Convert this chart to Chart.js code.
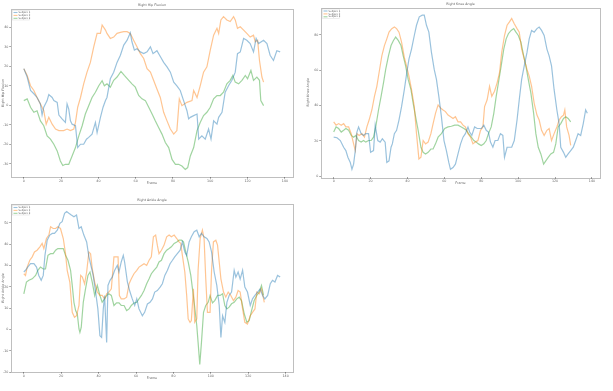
<!DOCTYPE html>
<html><head><meta charset="utf-8">
<script src="https://cdn.jsdelivr.net/npm/chart.js@4.4.0/dist/chart.umd.min.js"></script>
<style>
body{margin:0;background:#fff;width:613px;height:391px;position:relative;overflow:hidden}
canvas{position:absolute}
</style>
</head><body>
<canvas id="c1" width="300" height="190" style="left:0;top:0"></canvas>
<canvas id="c2" width="308" height="190" style="left:305px;top:0"></canvas>
<canvas id="c3" width="300" height="190" style="left:0;top:195px"></canvas>
<script>
// ---- Data (frame, value) ----
const seriesLabels = ['Subject 1','Subject 2','Subject 3'];
const xTicks = [0,20,40,60,80,100,120,140];
const hipYTicks = [-30,-20,-10,0,10,20,30,40];
const kneeYTicks = [0,20,40,60,80];
const ankleYTicks = [-20,-10,0,10,20,30,40,50];

// Right Hip Flexion
const hipFrames1 = [0,1.8,3.6,5.4,7.1,8.9,9.8,10.7,12.5,13.4,15.2,16.1,17.9,18.8,20.5,22.3,23.2,24.1,25,25.9,27.7,28.9,30.4,32.1,33.6,34.8,36.6,38.4,39.3,41.1,42.5,43.8,44.6,46.4,48.2,50,51.8,53.6,55.4,57.1,58,59.3,60.7,62.5,64.3,66.1,67.9,69.3,71.4,73.2,75,76.8,78.6,80.4,82.1,83.9,85.7,87.5,88.4,89.3,91.1,92.9,93.8,95.5,97.3,99.1,100.4,101.8,103.6,104.5,106.3,108,109.8,111.6,113.4,114.6,116.1,117.9,119.6,121.4,123.2,124.6,125.9,128.6,130.4,132.1,133.9,135.7,137.5];
const hipValues1 = [18.8,14.5,7.6,5.9,4,0.7,-5,-1,2.4,5.5,4,2.4,1.5,-5,-7,-8.8,0.7,-2,-8,-9.7,-10.5,-21.7,-20,-20,-17.4,-16.5,-14.8,-8.8,-14,-6.2,-1,2.4,4,13.6,17,22,25.7,30.9,33.4,37.2,32.6,28.3,29,27.4,26.5,27.4,30,26.5,28,25,22,19.7,17,11.9,10,7.6,2.4,-2.8,-7,-6.2,-5.3,-4.5,-17.4,-15.7,-17.4,-12.2,-17.4,-8,-9.7,-6.2,-3.6,6.7,10,12.8,17,26.5,27.4,34.3,33.4,31.7,27.4,34.3,31.7,33.4,31.7,25.7,23,28,27.4];
const hipFrames2 = [0,1.8,3.6,5.4,7.1,8.9,10.7,12,13.4,15.2,17,18.8,21.4,23.2,25,26.8,27.7,28.9,30.4,32.1,33.9,35.7,37.5,39.3,41.1,42,43.8,44.6,46.4,48.2,50,51.8,53.6,55.4,57.1,58.9,60.7,62.5,64.3,66.1,67.9,69.6,71.4,73.2,75,76.8,78.6,80.4,82.1,83.4,84.8,87.5,90.2,91.1,92.9,94.6,96.4,98.2,100,101.8,103.6,104.5,105.7,107.1,108.9,110.7,112.5,113.4,114.6,116.1,117.9,119.6,121.4,123.2,124.1,125.4,126.4,127.7,128.6];
const hipValues2 = [18.8,15.3,10,7.6,4,0.7,-2.8,-9.7,-6.2,-9.7,-12.2,-13,-13,-12.2,-13,-12.2,-8.8,-1,4,11,17,22,30,36.9,36.9,41.2,38.6,36.9,34.3,35,36.9,37.4,37.8,37.8,36.9,33.4,30,26.5,24,18.8,17,12.8,8.4,4,-3.6,-8,-12.2,-14.8,-13,3.3,-0.2,1.5,2.4,7.6,4,10,17,19.7,28.3,36,39.5,36.9,43.8,45.5,43.8,43,45.5,43.8,39.5,40.3,38.6,36.9,35,36,32.6,33.4,23,14.5,11.9];
const hipFrames3 = [0,1.8,3.6,5.4,7.1,8.9,10.7,12.5,14.3,16.1,17.9,19.6,20.9,22.3,24.1,25.9,27.7,29.5,31.3,33,34.8,36.6,38.4,40.2,42,43.2,44.6,46.4,48.2,50,52.1,53.9,56.3,58,59.8,61.6,63.4,65.2,67,68.8,70.5,72.3,74.1,75.9,77.7,79.5,81.3,83,84.8,86.6,87.9,89.3,91.1,92.9,94.6,96.4,98.2,100,101.8,103.6,105.4,107.1,108.9,110.7,112.1,113.4,115.2,117,118.8,120,121.8,123.2,125,126.4,127.1,128.6];
const hipValues3 = [2.4,3.3,-1,-3.6,-2.8,-8,-10.5,-15.7,-17.4,-20,-23.4,-28.6,-30.9,-30.3,-30.3,-26,-21.7,-15.7,-10.5,-4.5,-0.2,4,6.7,10,12.6,10,11,9.3,12.8,14.5,17.4,15.3,12.8,11,9.3,5,3.3,2.4,-1,-4.5,-8,-11.4,-14.8,-19.1,-21.7,-27.8,-30.3,-30.3,-31.2,-32.9,-32,-26,-21.7,-13,-8.8,-5.3,-3.6,-1,3.3,5,5,6.7,11,12.8,15.3,11.9,11,12.8,15.3,13.6,17.9,12.8,14.5,12.8,2.4,-0.2];

// Right Knee Angle
const kneeFrames1 = [0,1.8,3.6,5.4,6.6,7.7,9,9.9,10.8,11.7,12.6,13.5,14.9,16.2,17.4,18.9,20,21.6,22.5,23.9,25.2,26.4,27.9,28.8,30,31.1,31.8,32.9,34.1,35.4,36.8,38.3,39.5,40.8,42.2,43.7,44.9,46.4,48,49.1,50.3,51.6,53,54.5,55.7,57,58.4,59.8,61.1,62.4,63.3,64.7,66,67.4,68.8,70.1,71.4,72.8,73.7,74.9,76.4,77.8,79.1,80,81.4,82.7,83.9,85,86.3,87.5,89,90.4,91.7,92.6,94,95.3,96.5,97.9,99.4,100.6,101.9,103.3,104.8,106,107.3,108.7,110.2,111.4,112.7,114.1,115.6,116.8,118.1,119.5,121,122.2,123.1,124.6,125.8,127.1,128.5,129.9,131.2,132.5,133.9,135.3,136.6,137.5];
const kneeValues1 = [22,21.7,20.1,16.3,14.4,10.6,7.7,3.8,6.7,14.4,24.9,27.8,24,23,24,24,13.4,14.4,28.8,20.1,19.2,21.1,19.2,7.7,8.6,16.3,18.2,24,25.9,31.7,39.3,48.9,57.6,66.2,71.9,79.6,85.4,90.2,91.1,91.1,85.4,81.5,70,60.4,54.7,45.1,33.6,20.1,14.4,7.7,3.8,4.8,6.7,12.5,18.2,22,24,27.8,24.9,23,27.8,26.9,26.9,26.9,28.8,25.9,24.9,19.2,16.3,20.1,20.1,24,23,10.6,16.3,16.3,16.3,20.1,31.7,43.2,54.7,62.4,70,77.7,82.5,81.5,83.5,84.4,82.5,79.6,71.9,68.1,62.4,48.9,37.4,29.7,16.3,13.4,10.6,12.5,14.4,16.3,20.1,24,23,29.7,37.4,35.5];
const kneeFrames2 = [0,1.3,2.7,4.1,5.4,6.6,8.1,9.5,10.8,11.7,12.6,13.8,15.3,16.7,18,19.2,20.7,22.1,23.4,24.6,26.1,27.5,28.8,30,31.5,32.9,34.1,35.4,36.8,38.3,39.5,40.8,42.2,43.7,44.9,46.2,47.3,48.5,49.8,51.2,52.7,53.9,55.2,56.6,58.1,59.3,60.6,62,63.4,64.7,66,67.4,68.8,70.1,71.4,72.8,74.2,75.5,76.7,78.2,79.6,80.9,81.8,83.2,84.5,85.7,87.2,88.6,89.9,91.1,92.6,94,95.3,96.5,97.9,99.4,100.6,101.9,103.3,104.8,106,107.3,108.7,110.2,111.4,112.7,114.1,115.6,116.8,118.1,119.5,121,122.2,123.5,124.6,125.3,126.3,127.6,128.5];
const kneeValues2 = [30.7,28.8,29.7,28.8,29.7,27.8,27.8,24,18.2,14.4,24,23,24,22,27.8,31.7,37.4,45.1,50.8,58.5,68.1,73.9,77.7,81.5,83.5,84.4,83.5,81.5,75.8,67.2,62.4,56.6,48.9,39.3,24,9.6,10.6,20.1,18.2,19.2,24,29.7,35.5,40.3,38.4,37.4,36.5,34.5,33.6,32.6,33.6,30.7,30.7,28.8,27.8,24,22,18.2,19.2,20.1,25.9,27.8,39.3,43.2,50.8,45.1,48,52.8,58.5,70,79.6,85.4,87.3,89.2,86.3,83.5,81.5,71.9,66.2,60.4,56.6,50.8,41.2,34.5,31.7,25.9,23,25.9,26.9,20.1,24,27.8,31.7,33.6,34.5,37.4,27.8,23,17.3];
const kneeFrames3 = [0,1.3,2.7,4.1,5.4,6.6,8.1,9.5,10.8,12,13.5,14.9,16.2,17.4,18.9,20.3,21.6,22.8,24.3,25.7,27,28.2,29.7,31.1,32.4,33.6,35,36.5,37.7,39,40.4,41.9,43.1,44.4,45.8,47.3,48.5,49.8,51.2,52.7,53.9,55.2,56.6,58.4,60.2,62,63.8,65.6,67.4,69.2,70.6,71.9,73.1,74.6,76,77.3,78.5,80,81.4,82.7,83.9,85.4,86.8,88.1,89.3,90.8,92.2,93.5,94.7,96.2,97.6,98.8,100.1,101.5,103,104.2,105.5,106.9,108.4,109.6,110.9,112.3,113.8,115,116.3,117.7,119.2,120.4,121.7,123.1,124.6,125.8,127.1,128.5];
const kneeValues3 = [24.9,27.8,26.9,24.9,25.9,26.9,25.9,23,22,23,20.1,19.2,20.1,19.2,20.1,20.1,22,27.8,37.4,45.1,52.8,60.4,68.1,73.9,76.8,78.7,76.8,73.9,68.1,62.4,54.7,48.9,41.2,33.6,25.9,16.3,13.4,12.5,13.4,15.3,15.3,18.2,22,24,26.9,27.8,28.2,28.8,28.8,27.8,26.9,25.9,24,22,20.1,19.2,18.2,17.3,18.2,20.1,24,27.8,35.5,45.1,52.8,62.4,71.9,77.7,80.6,82.5,83.5,81.5,79.6,75.8,68.1,62.4,54.7,47,35.5,24,16.3,12.5,6.7,8.6,10.6,12.5,13.4,18.2,27.8,29.7,32.6,33.6,32.6,30.7];

// Right Ankle Angle
const ankleFrames1 = [0,0.9,2.1,3.6,5.4,6.8,8,9.3,10.4,11.3,12.5,13.9,15.2,16.4,17.9,19.3,20.5,21.8,22.9,24.1,25.4,26.8,28.2,29.5,30.7,32.1,33.6,34.8,36.1,37.1,38.4,39.6,40.7,41.6,42.5,43.2,44.3,45,46.1,47.3,48.6,50,50.9,52.1,53.2,53.9,55.4,56.8,58,59.3,60.4,61.6,63.4,64.6,66.1,67.5,68.8,70,71.4,72.9,74.1,75.4,76.8,78.2,79.5,80.7,82.1,83.6,84.8,86.1,87.1,88.4,89.6,91.1,92.5,93.8,95,96.4,97.9,99.1,100.4,101.8,103.2,104.5,105.4,106.3,107.5,108.6,109.8,111.1,112.5,113.4,114.6,115.7,117,118.2,119.6,121.1,122.3,123.6,125,126.4,127.7,128.9,130.4,131.8,133,134.3,135.7,137.1];
const ankleValues1 = [26.9,27.7,29.2,30.8,30.8,29.2,25.3,23,25.3,34.7,41.8,44.2,45,45,46.5,49.7,50.5,54.4,55.2,54.4,53.6,52.8,53.6,47.3,48.1,44.2,41,34,29.2,25.3,17.5,9.6,-3,-3.8,9.6,15.9,-6.1,20.6,23,24.5,27.7,30,26.9,31.6,34.7,31.6,22.2,17.5,14.3,11.2,14.3,9.6,6.4,8,11.9,12.7,14.3,17.5,18.2,19.8,21.4,25.3,27.7,30.8,32.4,34,35.5,37.1,41,36.3,34.7,41,43.4,45.8,46.5,43.4,45,43.4,42.6,41,36.3,26.9,20.6,11.2,-3.8,6.4,3.3,12.7,15.9,17.5,27.7,24.5,26.9,23.6,27.7,19.8,17.5,11.2,14.3,15.9,17.5,19,15.9,14.3,15.9,21.4,23,22.2,25.3,24.5];
const ankleFrames2 = [0,0.9,1.8,3.2,4.5,5.7,7.1,8.6,9.8,10.7,12.1,13.4,14.3,15.7,17,18.2,19.6,21.1,22.3,23.2,24.6,25.9,27.1,28.2,29.5,30.4,31.3,32.5,33.6,34.8,35.7,36.6,37.9,39.3,40.7,41.9,43.2,44.3,45.5,46.8,48.2,49.6,50.4,51.1,52.1,53.6,55,56.3,57.5,58.9,60.4,61.6,62.9,64.3,65.7,67,68.2,69.3,70.5,71.4,72.3,73.6,75,76.4,77.7,78.9,80.4,81.8,83,83.9,84.8,86.1,87.1,87.9,88.9,89.6,90.7,91.4,92.5,93.2,94.3,95.5,96.4,97.3,98.2,99.6,100.4,101.4,102.7,103.6,104.5,105.4,106.8,108,109.3,110.7,112.1,113.4,114.6,115.7,117,118.2,119.6,121.1,122.3,123.6,124.6,125.9,127.1,128.6];
const ankleValues2 = [26.1,25.3,29.2,32.4,34,36.3,37.1,38.7,40.3,37.9,42.6,44.2,48.1,47.3,47.3,48.1,47.3,42.6,35.5,27.7,22.2,8,5.7,6.4,11.2,25.3,24.5,21.4,26.9,36.3,35.5,28.5,22.2,17.5,15.9,15.9,14.3,16.7,17.5,19,34,34,34,15.9,14.3,14.3,15.1,21.4,23.7,26.1,27.7,29.2,30,30.8,30,32.4,34,43.4,44.2,39.5,35.5,37.1,39.5,43.4,44.2,43.4,44.2,42.6,41,40.3,34.7,26.9,15.9,4.9,3.3,4.1,19,3.3,4.9,27.7,42.6,46.5,42.6,23.7,8,8,27.7,41,41.8,39.5,31.6,23.7,17.5,15.1,17.5,15.9,13.5,15.1,18.2,17.5,9.6,3.3,2.5,6.4,8,9.6,17.5,16.7,19,12.7];
const ankleFrames3 = [0,1.4,2.7,4.5,6.3,7.5,8.9,10.4,11.6,12.9,14.3,15.7,17,18.2,19.6,21.1,22.3,23.6,25,25.9,26.8,27.7,28.6,29.5,30,30.7,31.8,33,34.3,35.4,36.6,37.9,39.3,40.7,41.9,43.2,44.3,45.5,46.8,48.2,49.6,50.9,52.1,53.6,55,56.3,57.5,58.9,60.4,61.6,62.9,64.3,65.7,67,68.2,69.6,71.1,72.3,73.6,75,76.4,77.7,78.9,80.4,81.8,83,84.3,85.4,86.6,87.9,89.3,90.2,91.1,92.5,93.2,94.1,95,96.1,97.3,98.6,99.6,100.9,102.1,103.6,105,106.3,107.5,108.6,109.8,111.1,112.5,113.9,115.2,116.4,117.9,119.3,120.5,121.8,123.2,124.6,125.9,127.1,128.2];
const ankleValues3 = [16.7,22.2,23,23.7,25.3,27.7,29.2,28.3,28.3,34.7,35.5,35.5,37.1,37.9,37.9,37.9,34.7,32.4,27.7,20.6,12.7,8.8,7.2,0.2,-1.4,0.9,12.7,19,25.3,26.9,22.2,15.9,20.6,15.9,12.7,14.3,15.9,16.7,15.9,11.2,12.4,12.4,11.2,11.2,8.8,9.6,11.2,12.4,12.7,14.3,15.9,18.2,21.4,23.7,26.1,27.7,29.2,31.6,32.4,35.5,37.1,37.9,38.7,40.3,41,41.8,41.8,41,36.3,31.6,25.3,19,12.7,1.7,-6.1,-16.4,-6.1,8,11.2,12.7,15.9,12.4,13.5,15.9,15.9,16.7,11.2,9.6,10.4,12,12.7,14.3,15.1,13.5,7.2,3.3,4.1,8.8,13.5,15.9,17.5,20.6,15.9];

// ---- Styling ----
const lineColors = ['rgba(31,119,180,0.45)','rgba(255,127,14,0.45)','rgba(44,160,44,0.45)'];
const FONT = 'DejaVu Sans';
const FS = 3.3;
const TEXT = '#666';

function extent(arrs, pad) {
  let lo = Infinity, hi = -Infinity;
  arrs.forEach(a => a.forEach(v => { if (v < lo) lo = v; if (v > hi) hi = v; }));
  const m = (hi - lo) * pad;
  return [lo - m, hi + m];
}

function makePanel(cfg) {
  const [xmin, xmax] = extent(cfg.series.map(s => s[0]), 0.05);
  const [ymin, ymax] = extent(cfg.series.map(s => s[1]), 0.05);
  const datasets = cfg.series.map((s, i) => ({
    label: seriesLabels[i],
    data: s[0].map((f, j) => ({x: f, y: s[1][j]})),
    borderColor: lineColors[i],
    backgroundColor: lineColors[i],
    borderWidth: 1.2,
    pointRadius: 0,
    fill: false,
    tension: 0
  }));
  const framePlugin = {
    id: 'frame_' + cfg.id,
    afterDraw(chart) {
      const {ctx, chartArea: a} = chart;
      ctx.save();
      ctx.strokeStyle = 'rgba(0,0,0,0.25)';
      ctx.lineWidth = 1;
      ctx.strokeRect(Math.round(a.left) + 0.5, Math.round(a.top) + 0.5, Math.round(a.right - a.left), Math.round(a.bottom - a.top));
      // title
      ctx.fillStyle = TEXT;
      ctx.font = FS + 'px "' + FONT + '"';
      ctx.textAlign = 'center';
      ctx.textBaseline = 'middle';
      ctx.fillText(cfg.title, (a.left + a.right) / 2, a.top - 3.6);
      // legend
      const lx = a.left + 1.5, ly = a.top + 1.5;
      ctx.fillStyle = 'rgba(255,255,255,0.85)';
      ctx.strokeStyle = 'rgba(0,0,0,0.12)';
      ctx.lineWidth = 0.6;
      ctx.fillRect(lx, ly, 17, 9.5);
      ctx.strokeRect(lx, ly, 17, 9.5);
      ctx.font = '2.5px "' + FONT + '"';
      ctx.textAlign = 'left';
      seriesLabels.forEach((lab, i) => {
        const yy = ly + 2 + i * 2.9;
        ctx.strokeStyle = lineColors[i];
        ctx.lineWidth = 1.1;
        ctx.beginPath();
        ctx.moveTo(lx + 1, yy);
        ctx.lineTo(lx + 5, yy);
        ctx.stroke();
        ctx.fillStyle = TEXT;
        ctx.fillText(lab, lx + 6, yy);
      });
      ctx.restore();
    }
  };
  const tickFont = {family: FONT, size: FS};
  return new Chart(document.getElementById(cfg.id), {
    type: 'line',
    data: {datasets},
    options: {
      responsive: false,
      animation: false,
      devicePixelRatio: 1,
      layout: {padding: {top: cfg.padTop, right: cfg.padRight, left: 0, bottom: 0}},
      plugins: {legend: {display: false}, title: {display: false}, tooltip: {enabled: false}},
      scales: {
        x: {
          type: 'linear', min: xmin, max: xmax,
          afterBuildTicks: s => { s.ticks = xTicks.map(v => ({value: v})); },
          afterFit: s => { s.height = 13; },
          grid: {display: true, drawOnChartArea: false, drawTicks: true, tickLength: 1.8, color: 'rgba(0,0,0,0.35)'},
          border: {display: false},
          ticks: {font: tickFont, color: TEXT, padding: 0.8, maxRotation: 0, autoSkip: false},
          title: {display: true, text: 'Frame', font: tickFont, color: TEXT, padding: {top: 0, bottom: 5}}
        },
        y: {
          type: 'linear', min: ymin, max: ymax,
          afterBuildTicks: s => { s.ticks = cfg.yTicks.map(v => ({value: v})); },
          afterFit: s => { s.width = cfg.yWidth; },
          grid: {display: true, drawOnChartArea: false, drawTicks: true, tickLength: 1.8, color: 'rgba(0,0,0,0.35)'},
          border: {display: false},
          ticks: {font: tickFont, color: TEXT, padding: 0.8, autoSkip: false},
          title: {display: true, text: cfg.ylabel, font: tickFont, color: TEXT, padding: {top: 1, bottom: 0}}
        }
      }
    },
    plugins: [framePlugin]
  });
}

makePanel({id: 'c1', title: 'Right Hip Flexion', ylabel: 'Right Hip Flexion', yTicks: hipYTicks, yWidth: 11, padTop: 9, padRight: 7,
  series: [[hipFrames1, hipValues1], [hipFrames2, hipValues2], [hipFrames3, hipValues3]]});
makePanel({id: 'c2', title: 'Right Knee Angle', ylabel: 'Right Knee Angle', yTicks: kneeYTicks, yWidth: 16, padTop: 7.5, padRight: 13,
  series: [[kneeFrames1, kneeValues1], [kneeFrames2, kneeValues2], [kneeFrames3, kneeValues3]]});
makePanel({id: 'c3', title: 'Right Ankle Angle', ylabel: 'Right Ankle Angle', yTicks: ankleYTicks, yWidth: 11, padTop: 9, padRight: 7,
  series: [[ankleFrames1, ankleValues1], [ankleFrames2, ankleValues2], [ankleFrames3, ankleValues3]]});
</script>
</body></html>
